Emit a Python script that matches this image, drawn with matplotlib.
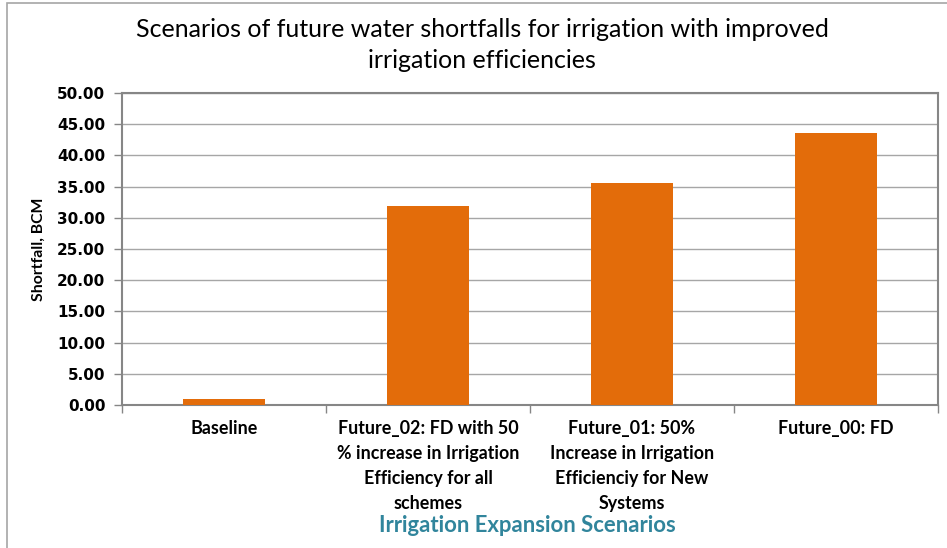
import matplotlib
matplotlib.use("Agg")
import matplotlib.pyplot as plt
from matplotlib.patches import Rectangle
from matplotlib.ticker import FormatStrFormatter

categories = ["Baseline",
              "Future_02: FD with 50\n% increase in Irrigation\nEfficiency for all\nschemes",
              "Future_01: 50%\nIncrease in Irrigation\nEfficienciy for New\nSystems",
              "Future_00: FD"]
values = [0.95, 31.9, 35.6, 43.6]
yticks = [0, 5, 10, 15, 20, 25, 30, 35, 40, 45, 50]

W, H = 947, 548
fig = plt.figure(figsize=(W / 100, H / 100), dpi=100)
fig.patches.append(Rectangle((7 / W, -0.01), 1.2, (H - 3) / H + 0.01, transform=fig.transFigure,
                             fill=False, edgecolor="#A6A6A6", linewidth=1.2))

ax = fig.add_axes([122 / W, 1 - 405 / H, (938 - 122) / W, (405 - 93) / H])
x = list(range(len(categories)))
ax.bar(x, values, width=0.4, color="#E36C0A", zorder=3)
ax.set_xlim(-0.5, len(categories) - 0.5)
ax.set_ylim(0, 50)
ax.set_yticks(yticks)
ax.yaxis.set_major_formatter(FormatStrFormatter("%.2f"))
ax.grid(axis="y", color="#A6A6A6", linewidth=1.0, zorder=0)
for s in ax.spines.values():
    s.set_color("#868686")
    s.set_linewidth(1.5)
ax.tick_params(axis="y", length=6, color="#868686", width=1, pad=6)
for lab in ax.get_yticklabels():
    lab.set_fontfamily("DejaVu Sans")
    lab.set_fontweight("bold")
    lab.set_fontsize(11)
ax.set_xticks([i - 0.5 for i in range(len(categories) + 1)], minor=False)
ax.set_xticklabels([])
ax.set_xticks(x, minor=True)
ax.set_xticklabels(categories, minor=True, fontfamily="Lato", fontweight="bold", fontsize=12.9,
                   linespacing=1.57, va="top")
ax.tick_params(axis="x", which="major", length=6, color="#868686", width=1)
ax.tick_params(axis="x", which="minor", length=0, pad=10.5)

ax.set_ylabel("Shortfall, BCM", fontfamily="Lato", fontweight="bold", fontsize=11.3)
ax.yaxis.set_label_coords((39 - 122) / (938 - 122), 0.5)
ax.yaxis.label.set_va("center")
ax.set_xlabel("Irrigation Expansion Scenarios", fontfamily="Lato", fontweight="bold",
              fontsize=15.9, color="#31859C")
ax.xaxis.set_label_coords((527 - 122) / (938 - 122), -(526 - 405) / (405 - 93))
ax.xaxis.label.set_va("center")

fig.text(482 / W, 1 - 45 / H,
         "Scenarios of future water shortfalls for irrigation with improved\nirrigation efficiencies",
         ha="center", va="center", fontfamily="Lato", fontsize=18, linespacing=1.38)

fig.savefig("out.png", dpi=100)
